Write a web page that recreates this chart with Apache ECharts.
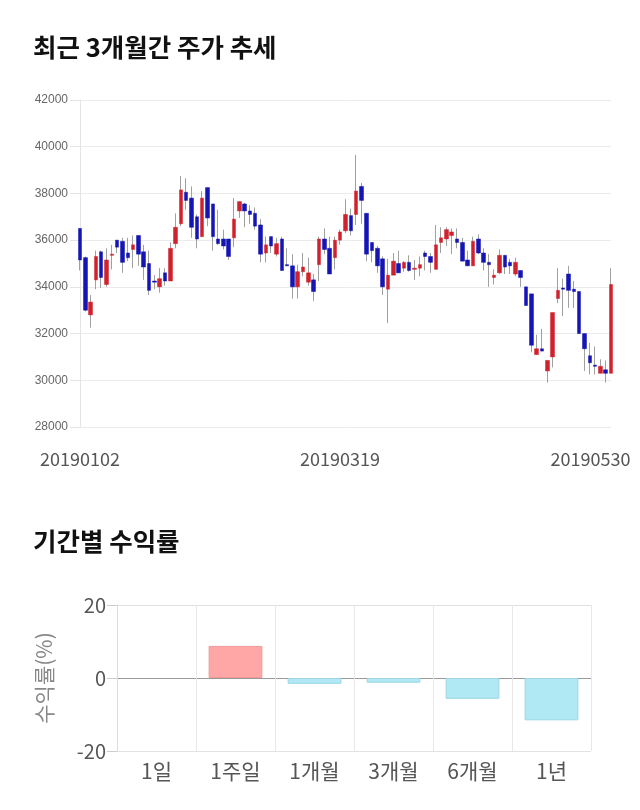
<!DOCTYPE html>
<html>
<head>
<meta charset="utf-8">
<script src="https://cdn.jsdelivr.net/npm/echarts@6/dist/echarts.min.js"></script>
<style>
html,body{margin:0;padding:0;background:#fff;}
#chart{width:640px;height:810px;}
</style>
</head>
<body>
<div id="chart"></div>
<script>
// ---- price chart data (trading days 2019-01-02 .. 2019-05-30) ----
const dates = [
 '20190102','20190103','20190104','20190107','20190108','20190109','20190110','20190111','20190114','20190115',
 '20190116','20190117','20190118','20190121','20190122','20190123','20190124','20190125','20190128','20190129',
 '20190130','20190131','20190201','20190207','20190208','20190211','20190212','20190213','20190214','20190215',
 '20190218','20190219','20190220','20190221','20190222','20190225','20190226','20190227','20190228','20190304',
 '20190305','20190306','20190307','20190308','20190311','20190312','20190313','20190314','20190315','20190318',
 '20190319','20190320','20190321','20190322','20190325','20190326','20190327','20190328','20190329','20190401',
 '20190402','20190403','20190404','20190405','20190408','20190409','20190410','20190411','20190412','20190415',
 '20190416','20190417','20190418','20190419','20190422','20190423','20190424','20190425','20190426','20190429',
 '20190430','20190502','20190503','20190507','20190508','20190509','20190510','20190513','20190514','20190515',
 '20190516','20190517','20190520','20190521','20190522','20190523','20190524','20190527','20190528','20190529',
 '20190530'
];
const openPrices = [
 36500,35250,32800,34300,35500,34100,35350,36000,35950,35450,
 35600,36200,35500,35000,34250,34000,34600,34250,35850,36700,
 38050,37800,37000,36150,38250,37550,36050,36050,36050,36100,
 37250,37550,37250,37150,36650,35450,36150,35400,36050,34950,
 34900,34000,34650,34200,34300,34950,36050,35650,35250,36000,
 36400,37050,37100,38300,37150,35900,35650,35200,33900,34500,
 35000,34800,35050,34750,34800,35450,35300,34750,35900,36050,
 36200,36050,35900,35150,34900,36050,35450,35050,34400,34600,
 35350,35050,34550,34700,34000,33700,31100,31350,30400,31000,
 33500,33950,34550,33900,33800,32000,31050,30650,30300,30450,
 30300
];
const closePrices = [
 35150,33000,33350,35300,34400,35150,35400,35700,35050,35250,
 35800,35400,34850,33850,34200,34350,34250,35650,36550,38150,
 37700,36550,36050,37800,36950,36150,35850,35750,35300,36900,
 37650,37250,37100,36600,35400,35800,35750,35850,34700,34900,
 34000,34650,34850,34600,33800,36050,35600,34550,36000,36350,
 37100,36400,38100,37700,35400,35550,34900,34000,34500,35100,
 34600,35050,34700,34800,34950,35300,35050,35800,36100,36450,
 36350,35900,35100,34900,35950,35450,35050,34950,34500,35350,
 34850,34900,35050,34400,33200,31500,31350,31250,30850,32900,
 33850,33900,33850,33800,32000,31350,30750,30600,30600,30300,
 34100
];
const lowPrices = [
 34700,32950,32250,33900,33950,34000,34750,35450,34600,35100,
 34800,34900,34300,33650,33900,33750,34050,34250,35650,36600,
 37300,36100,35650,36150,36600,35550,35800,35600,35150,35700,
 36950,36550,36700,36450,35050,35050,35450,35300,34700,34900,
 33500,33500,34450,34050,33400,34250,35400,34550,34750,35800,
 36300,36200,36650,36700,35100,35050,34600,33650,32450,34500,
 34600,34650,34650,34300,34450,34700,34600,34750,35450,35750,
 35400,35650,35100,34900,34900,35400,34700,34000,34100,34550,
 34550,34550,34450,34000,33200,31200,31100,31250,29900,30550,
 33300,32750,33100,33100,32000,30400,30250,30250,30300,29900,
 30300
];
const highPrices = [
 36500,35300,33650,35550,35550,35650,35800,36000,36100,36100,
 36200,36200,35800,35550,34500,34800,34800,35900,37150,38750,
 38650,38300,37100,38100,38250,37550,37300,36450,36050,37800,
 37650,37600,37500,37400,36900,36150,36150,36100,36150,35650,
 35400,34950,35450,35250,34550,36150,36500,36150,36150,36450,
 37750,37350,39650,38450,37150,35900,35750,35300,35200,35450,
 35550,35100,35350,35150,35300,35550,35450,36650,36550,36550,
 36500,36500,36100,35550,36150,36250,35650,35400,34750,35600,
 35350,35200,35250,34700,34000,33700,31950,32200,30850,32900,
 34800,34350,34900,34250,33800,32000,31600,31450,30900,30850,
 34800
];
const priceTickLabels = ['20190102','20190319','20190530'];

// ---- period return data ----
const periodLabels = ['1일','1주일','1개월','3개월','6개월','1년'];
const periodReturns = [0, 8.8, -1.6, -1.3, -5.7, -11.6];

// ---- build series data ----
const wickData = dates.map((d, i) => [openPrices[i], closePrices[i], lowPrices[i], highPrices[i]]);
const bodyData = dates.map((d, i) => [openPrices[i], closePrices[i],
  Math.min(openPrices[i], closePrices[i]), Math.max(openPrices[i], closePrices[i])]);

const UP = '#d0222c', DOWN = '#1515b4', WICK = '#a0a0a0';
const KFONT = 'Noto Sans CJK KR';

const chart = echarts.init(document.getElementById('chart'), null, {renderer: 'canvas'});
chart.setOption({
  animation: false,
  backgroundColor: '#ffffff',
  title: [
    {text: '최근 3개월간 주가 추세', left: 28, top: 30,
     textStyle: {fontFamily: KFONT, fontSize: 25.5, fontWeight: 'bold', color: '#111'}},
    {text: '기간별 수익률', left: 28, top: 524,
     textStyle: {fontFamily: KFONT, fontSize: 25.5, fontWeight: 'bold', color: '#111'}}
  ],
  grid: [
    {left: 80, right: 29, top: 100, height: 327},
    {left: 117, right: 49, top: 605, height: 146}
  ],
  xAxis: [
    {
      gridIndex: 0, type: 'category', data: dates, boundaryGap: false,
      axisLine: {show: false}, axisTick: {show: false}, splitLine: {show: false},
      axisLabel: {
        interval: (i, v) => priceTickLabels.indexOf(v) >= 0,
        margin: 23,
        formatter: (v, i) => {
          if (v === priceTickLabels[1]) return '{m|' + v + '}';
          if (v === priceTickLabels[2]) return '{r|' + v + '}';
          return '{a|' + v + '}';
        },
        rich: {
          a: {fontFamily: KFONT, fontSize: 18, color: '#555'},
          m: {fontFamily: KFONT, fontSize: 18, color: '#555', padding: [0, 11, 0, 0]},
          r: {fontFamily: KFONT, fontSize: 18, color: '#555', padding: [0, 41, 0, 0]}
        }
      }
    },
    {
      gridIndex: 1, type: 'category', data: periodLabels,
      axisLine: {show: false}, axisTick: {show: false},
      splitLine: {show: true, lineStyle: {color: '#e8e8e8'}},
      axisLabel: {fontFamily: KFONT, fontSize: 21, color: '#555', margin: 10}
    }
  ],
  yAxis: [
    {
      gridIndex: 0, type: 'value', min: 28000, max: 42000, interval: 2000,
      axisLine: {show: true, lineStyle: {color: '#e4e4e4'}},
      axisTick: {show: true, length: 10, lineStyle: {color: '#e4e4e4'}},
      splitLine: {show: true, lineStyle: {color: '#ebebeb'}},
      axisLabel: {fontFamily: 'Liberation Sans', fontSize: 12, color: '#666', margin: 12,
                  formatter: v => String(v)}
    },
    {
      gridIndex: 1, type: 'value', min: -20, max: 20, interval: 20,
      name: '수익률(%)', nameLocation: 'middle', nameGap: 62, nameRotate: 90,
      nameTextStyle: {fontFamily: KFONT, fontSize: 21, color: '#888'},
      axisLine: {show: true, lineStyle: {color: '#dddddd'}},
      axisTick: {show: true, length: 10, lineStyle: {color: '#cccccc'}},
      splitLine: {show: true, lineStyle: {color: ['#e2e2e2', '#999999', '#e2e2e2']}},
      axisLabel: {fontFamily: KFONT, fontSize: 20, color: '#555', margin: 11}
    }
  ],
  series: [
    {
      type: 'candlestick', xAxisIndex: 0, yAxisIndex: 0, data: wickData,
      barWidth: 1, clip: true,
      itemStyle: {color: WICK, color0: WICK, borderColor: WICK, borderColor0: WICK, borderWidth: 1}
    },
    {
      type: 'candlestick', xAxisIndex: 0, yAxisIndex: 0, data: bodyData,
      barWidth: 4, clip: true,
      itemStyle: {color: UP, color0: DOWN, borderColor: UP, borderColor0: DOWN, borderWidth: 0.5}
    },
    {
      type: 'bar', xAxisIndex: 1, yAxisIndex: 1, barWidth: '68%',
      data: periodReturns.map(v => ({
        value: v,
        itemStyle: v > 0
          ? {color: '#ffa6a6', borderColor: '#f09898', borderWidth: 1}
          : v < 0 ? {color: '#b0e9f4', borderColor: '#9cd6e3', borderWidth: 1}
          : {color: 'rgba(0,0,0,0)', borderWidth: 0}
      }))
    }
  ]
});
</script>
</body>
</html>
